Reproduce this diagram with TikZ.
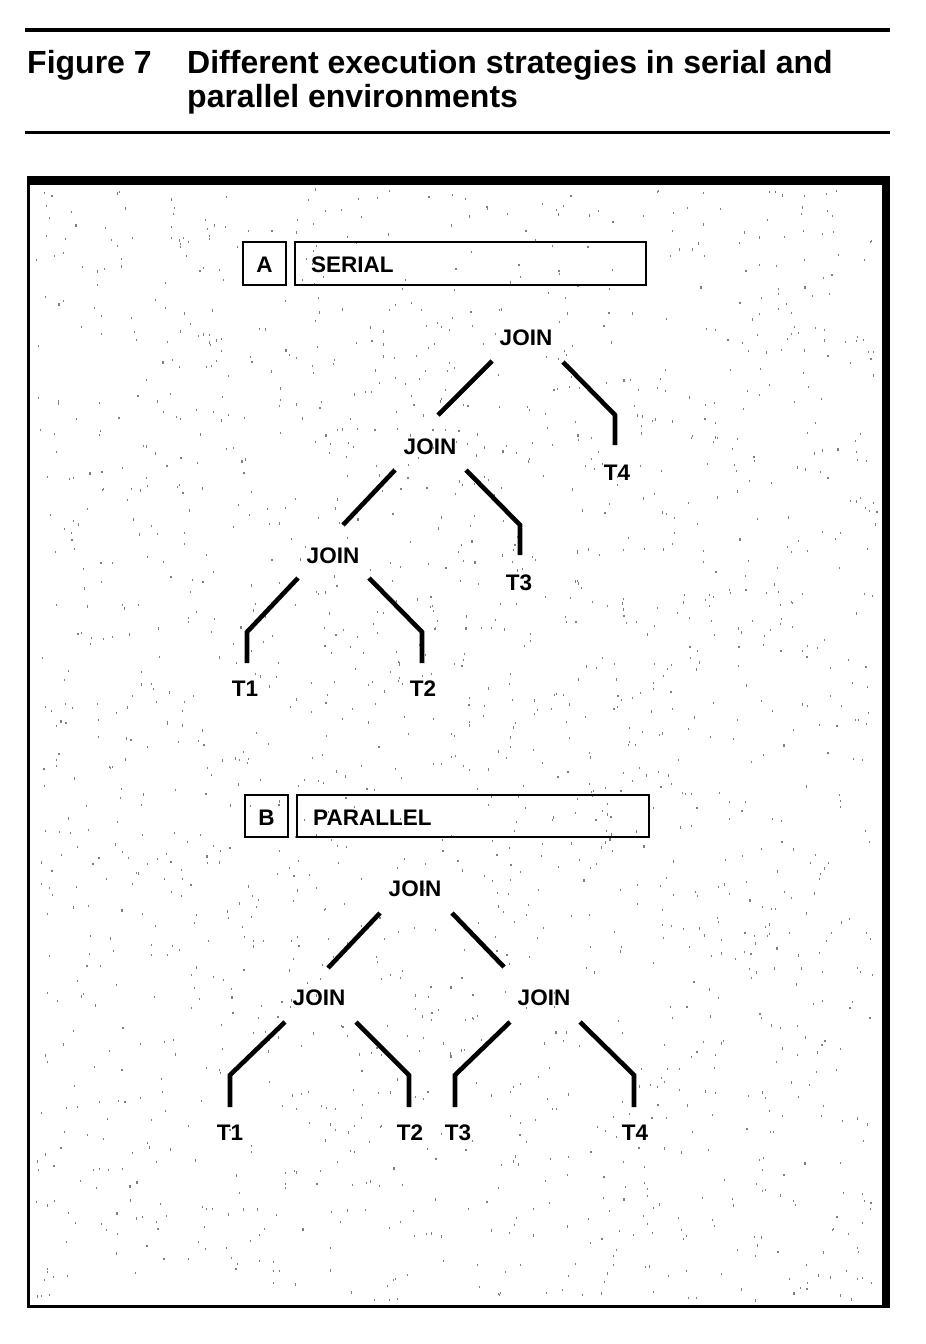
\documentclass[tikz,border=0pt]{standalone}
\usepackage{fontspec}
\setmainfont{Liberation Sans}
\begin{document}
\begin{tikzpicture}[x=1pt,y=-1pt,
  lbl/.style={inner sep=0pt, anchor=base, font=\fontsize{22.5}{26}\selectfont\bfseries},
  ttl/.style={inner sep=0pt, anchor=base west, font=\fontsize{32}{36}\selectfont\bfseries},
  edge/.style={line width=4.6pt},
  tagbox/.style={draw, line width=2.8pt, inner sep=0pt},
  speck/.style={fill=black!50}]
\useasboundingbox (0,0) rectangle (926,1344);
% rules and title
\coordinate (r1a) at (25,30); \coordinate (r1b) at (890,30);
\coordinate (r2a) at (25,132); \coordinate (r2b) at (890,132);
\draw[line width=4.5pt] (r1a) -- (r1b);
\draw[line width=3pt] (r2a) -- (r2b);
\node[ttl] (fig) at (27,73) {Figure 7};
\node[ttl] (t1) at (187,73) {Different execution strategies in serial and};
\node[ttl] (t2) at (187,107) {parallel environments};
% speckle
\pgfmathsetseed{11}
\foreach \i in {1,...,1800} {
  \pgfmathsetmacro\sx{36+rnd*842}
  \pgfmathsetmacro\sy{188+rnd*1112}
  \fill[speck] (\sx,\sy) rectangle ++(1.1,2.2);
}
% frame
\draw[line width=3pt] (28.5,181) rectangle (886,1306);
\fill (27,176) rectangle (890,185);
\fill (882,176) rectangle (890,1308);
% header boxes
\node[tagbox, minimum width=43pt, minimum height=43pt] (ba) at (264.5,263.5) {};
\node[lbl] (la) at (264.5,272) {A};
\node[tagbox, minimum width=351pt, minimum height=43pt] (bs) at (470.5,263.5) {};
\node[lbl, anchor=base west] (ls) at (311,272.5) {SERIAL};
\node[tagbox, minimum width=43pt, minimum height=42pt] (bb) at (266.5,816) {};
\node[lbl] (lb) at (266.5,825) {B};
\node[tagbox, minimum width=352pt, minimum height=42pt] (bp) at (473,816) {};
\node[lbl, anchor=base west] (lp) at (313,825) {PARALLEL};
% tree A
\node[lbl] (ja1) at (526,345) {JOIN};
\node[lbl] (ja2) at (430,454) {JOIN};
\node[lbl] (ja3) at (333,563) {JOIN};
\node[lbl] (ta4) at (617,480) {T4};
\node[lbl] (ta3) at (519,590) {T3};
\node[lbl] (ta1) at (245,696) {T1};
\node[lbl] (ta2) at (423,696) {T2};
\coordinate (a1l) at (492,361); \coordinate (a2t) at (438,415);
\coordinate (a1r) at (563,362); \coordinate (a4k) at (615,415); \coordinate (a4e) at (615,445);
\coordinate (a2l) at (395,470); \coordinate (a3t) at (343,525);
\coordinate (a2r) at (466,470); \coordinate (a3k) at (520,525); \coordinate (a3e) at (520,555);
\coordinate (a3l) at (298,578); \coordinate (a1k) at (247,632); \coordinate (a1e) at (247,663);
\coordinate (a3r) at (369,578); \coordinate (a2k) at (422,632); \coordinate (a2e) at (422,663);
\draw[edge] (a1l) -- (a2t);
\draw[edge] (a1r) -- (a4k) -- (a4e);
\draw[edge] (a2l) -- (a3t);
\draw[edge] (a2r) -- (a3k) -- (a3e);
\draw[edge] (a3l) -- (a1k) -- (a1e);
\draw[edge] (a3r) -- (a2k) -- (a2e);
% tree B
\node[lbl] (jb1) at (415,896) {JOIN};
\node[lbl] (jb2) at (319,1005) {JOIN};
\node[lbl] (jb3) at (544,1005) {JOIN};
\node[lbl] (tb1) at (230,1140) {T1};
\node[lbl] (tb2) at (410,1140) {T2};
\node[lbl] (tb3) at (458,1140) {T3};
\node[lbl] (tb4) at (635,1140) {T4};
\coordinate (b1l) at (380,913); \coordinate (b2t) at (328,968);
\coordinate (b1r) at (452,913); \coordinate (b3t) at (504,967);
\coordinate (b2l) at (285,1022); \coordinate (b1k) at (230,1075); \coordinate (b1e) at (230,1107);
\coordinate (b2r) at (356,1022); \coordinate (b2k) at (409,1075); \coordinate (b2e) at (409,1107);
\coordinate (b3l) at (510,1022); \coordinate (b3k) at (455,1075); \coordinate (b3e) at (455,1107);
\coordinate (b3r) at (580,1022); \coordinate (b4k) at (634,1075); \coordinate (b4e) at (634,1107);
\draw[edge] (b1l) -- (b2t);
\draw[edge] (b1r) -- (b3t);
\draw[edge] (b2l) -- (b1k) -- (b1e);
\draw[edge] (b2r) -- (b2k) -- (b2e);
\draw[edge] (b3l) -- (b3k) -- (b3e);
\draw[edge] (b3r) -- (b4k) -- (b4e);
\end{tikzpicture}
\end{document}
